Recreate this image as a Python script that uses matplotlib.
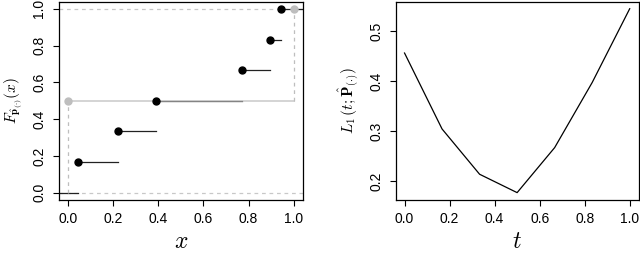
import numpy as np
import matplotlib
matplotlib.use("Agg")
import matplotlib.pyplot as plt

plt.rcParams['font.family'] = ['Liberation Sans', 'DejaVu Sans']
plt.rcParams['mathtext.fontset'] = 'cm'

# empirical cdf of the estimates (black)
jump_x = [0.045, 0.224, 0.392, 0.770, 0.894, 0.945]
jump_y = [1/6, 2/6, 3/6, 4/6, 5/6, 1.0]
# reference cdf (gray)
ref_x = [0.0, 1.0]
ref_y = [0.5, 1.0]

# loss curve
t_vals = [0.0, 1/6, 2/6, 3/6, 4/6, 5/6, 1.0]
loss_vals = [0.456, 0.304, 0.2134, 0.1766, 0.2667, 0.397, 0.5447]

fig = plt.figure(figsize=(6.4, 2.61), dpi=100)
ax1 = fig.add_axes([0.092, 0.234, 0.381, 0.760])
ax2 = fig.add_axes([0.618, 0.234, 0.380, 0.760])

gray = '#bebebe'
xmin, xmax = -0.04, 1.04

# left panel
ax1.axhline(0, color='#c8c8c8', ls=(0, (3, 3)), lw=0.9, zorder=1)
ax1.axhline(1, color='#c8c8c8', ls=(0, (3, 3)), lw=0.9, zorder=1)
# black step function
ax1.plot([xmin, jump_x[0]], [0, 0], color='#222222', lw=0.9)
ends = jump_x[1:] + [xmax]
for x0, x1, y in zip(jump_x, ends, jump_y):
    ax1.plot([x0, x1], [y, y], color='#222222', lw=0.9, zorder=2)
# gray step function, drawn on top semi-transparent
ax1.plot([ref_x[0], ref_x[0]], [0, ref_y[0]], color=gray, ls=(0, (3, 3)), lw=0.9, zorder=3)
ax1.plot([ref_x[0], ref_x[1]], [ref_y[0], ref_y[0]], color=gray, lw=1.4, alpha=0.65, zorder=3)
ax1.plot([ref_x[1], ref_x[1]], [ref_y[0], ref_y[1]], color=gray, ls=(0, (3, 3)), lw=0.9, zorder=3)
ax1.plot(jump_x, jump_y, 'o', color='black', ms=5, zorder=4)
ax1.plot(ref_x, ref_y, 'o', color=gray, ms=5, zorder=5)
ax1.set_xlim(xmin, xmax)
ax1.set_ylim(-0.04, 1.04)
ax1.set_xticks([0, 0.2, 0.4, 0.6, 0.8, 1.0])
ax1.set_yticks([0, 0.2, 0.4, 0.6, 0.8, 1.0])
ax1.set_xlabel(r'$x$', fontsize=17, labelpad=3)
ax1.set_ylabel(r'$F_{\hat{\mathbf{p}}_{(\cdot)}}(x)$', fontsize=11, labelpad=5)

# right panel
ax2.plot(t_vals, loss_vals, color='black', lw=0.9)
ax2.set_xlim(xmin, xmax)
ax2.set_ylim(0.162, 0.559)
ax2.set_xticks([0, 0.2, 0.4, 0.6, 0.8, 1.0])
ax2.set_yticks([0.2, 0.3, 0.4, 0.5])
ax2.set_xlabel(r'$t$', fontsize=17, labelpad=3)
ax2.set_ylabel(r'$L_1\,(t;\hat{\mathbf{P}}_{(\cdot)})$', fontsize=11, labelpad=5)

for ax in (ax1, ax2):
    ax.xaxis.set_major_formatter(matplotlib.ticker.FormatStrFormatter('%.1f'))
    ax.yaxis.set_major_formatter(matplotlib.ticker.FormatStrFormatter('%.1f'))
    ax.tick_params(direction='out', length=4, width=0.8, labelsize=10, pad=5)
    for lab in ax.get_yticklabels():
        lab.set_rotation(90)
        lab.set_va('center')
    for s in ax.spines.values():
        s.set_linewidth(0.9)

fig.savefig('out.png', dpi=100)
